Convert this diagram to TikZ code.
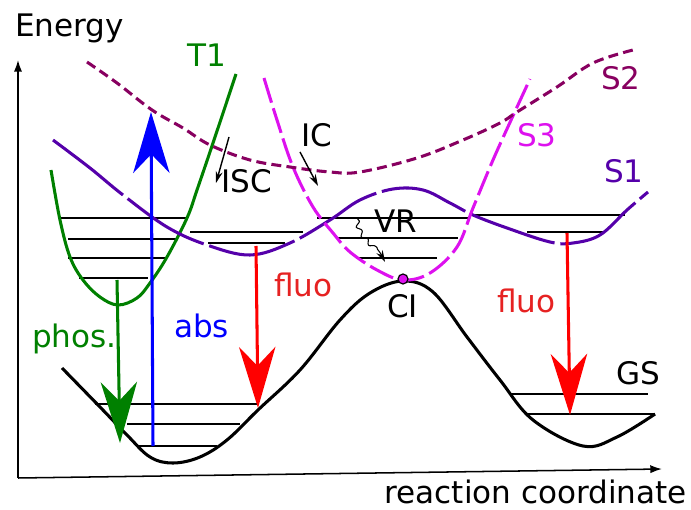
\documentclass[tikz,border=0pt]{standalone}
\usepackage{fontspec}
\setmainfont{DejaVu Sans}
\usepackage{xcolor}
\usetikzlibrary{arrows.meta,decorations.pathmorphing}
\definecolor{tgreen}{HTML}{008000}
\definecolor{sone}{HTML}{5500AA}
\definecolor{stwo}{HTML}{880060}
\definecolor{sthree}{HTML}{DD11EE}
\definecolor{fluored}{HTML}{E62222}
\begin{document}
\begin{tikzpicture}[x=0.03cm,y=-0.03cm,font=\fontsize{26.5}{31}\selectfont,curve/.style={line width=2.6pt,draw=#1},level/.style={line width=1.6pt},lbl/.style={anchor=base west,inner sep=0pt,text=#1},bigarrow/.style={-{Stealth[length=52pt,width=31pt,inset=16pt]},line width=2.6pt,draw=#1},smallarrow/.style={-{Stealth[length=10pt,width=6pt]},line width=1.2pt}]
\useasboundingbox (0,0) rectangle (691,510);
% axes
\coordinate (origin) at (18,478);\coordinate (ytop) at (18,60);\coordinate (xend) at (662,469);
\draw[-{Latex[length=10pt,width=7pt]},line width=1.3pt] (origin) -- (ytop);
\draw[-{Latex[length=10pt,width=7pt]},line width=1.3pt] (origin) -- (xend);
\node[lbl=black] (energy) at (15,37) {Energy};
\node[anchor=base east,inner sep=0pt] (rc) at (687,503) {reaction coordinate};
% vibrational levels
\draw[level] (58,218) -- (187,218) (68,239) -- (178,239) (68,258) -- (167,258) (79,278) -- (148,278);
\draw[level] (190,232) -- (303,232) (208,243) -- (285,243);
\draw[level] (317,218) -- (468,218) (337,238) -- (458,238) (358,258) -- (437,258);
\draw[level] (470,215) -- (625,215) (527,232) -- (605,232);
\draw[level] (95,404) -- (258,404) (127,424) -- (240,424) (137,446) -- (217,446);
\draw[level] (510,394) -- (648,394) (528,414) -- (655,414);
% potential curves
\draw[curve=black] plot[smooth,tension=0.6] coordinates {(62,368) (100,407) (127,435) (150,457) (173,463) (200,457) (227,440) (258,410) (300,370) (340,320) (370,293) (403,281) (433,292) (467,337) (500,380) (533,420) (583,446) (617,437) (655,414)};
\draw[curve=tgreen] plot[smooth,tension=0.6] coordinates {(51,170) (60,220) (70,257) (83,280) (100,297) (118,305) (137,298) (150,283) (167,257) (187,218) (197,190) (213,143) (236,74)};
\draw[curve=sone,dash pattern=on 76pt off 5pt] plot[smooth,tension=0.6] coordinates {(53,140) (90,168) (123,195) (167,227) (207,245) (250,255) (290,243) (330,220) (360,200) (393,189) (423,190) (450,203) (473,215) (507,228) (550,242) (573,243) (600,235) (627,210) (648,192)};
\draw[curve=sthree,dash pattern=on 22pt off 5pt] plot[smooth,tension=0.6] coordinates {(264,78) (277,120) (293,167) (313,207) (333,233) (350,252) (377,270) (403,280) (430,273) (457,247) (473,208) (493,160) (512,118) (530,79)};
\draw[curve=stwo,dash pattern=on 8.5pt off 4.5pt] plot[smooth,tension=0.6] coordinates {(87,62) (117,83) (152,110) (183,128) (210,145) (250,160) (290,167) (330,172) (360,172) (417,158) (463,140) (500,123) (517,112) (557,87) (593,63) (633,50)};
\node[circle,draw,fill=sthree,minimum size=0.3cm,inner sep=0pt,line width=1pt] (cidot) at (403,279) {};
% state labels
\node[lbl=tgreen] (t1) at (187,67) {T1};
\node[lbl=stwo] (s2) at (601,90) {S2};
\node[lbl=sthree] (s3) at (517,147) {S3};
\node[lbl=sone] (s1) at (604,183) {S1};
\node[lbl=black] (gs) at (616,384) {GS};
\node[lbl=black] (ci) at (387,317) {CI};
% transitions
\coordinate (absA) at (153,446);\coordinate (absB) at (151,112);
\coordinate (phosA) at (117,280);\coordinate (phosB) at (120,443);
\coordinate (fluoLA) at (256,246);\coordinate (fluoLB) at (258,408);
\coordinate (fluoRA) at (567,233);\coordinate (fluoRB) at (570,415);
\draw[bigarrow=tgreen] (phosA) -- (phosB);
\draw[bigarrow=blue] (absA) -- (absB);
\draw[bigarrow=red] (fluoLA) -- (fluoLB);
\draw[bigarrow=red] (fluoRA) -- (fluoRB);
\node[lbl=tgreen] (phos) at (32,347) {phos.};
\node[lbl=blue] (abs) at (174,337) {abs};
\node[lbl=fluored] (fluoL) at (274,297) {fluo};
\node[lbl=fluored] (fluoR) at (497,313) {fluo};
\coordinate (iscA) at (229,137);\coordinate (iscB) at (216,183);
\coordinate (icA) at (300,152);\coordinate (icB) at (318,186);
\draw[smallarrow] (iscA) -- (iscB);
\draw[smallarrow] (icA) -- (icB);
\node[lbl=black] (isc) at (221,193) {ISC};
\node[lbl=black] (ic) at (301,147) {IC};
\coordinate (vrA) at (357,218);\coordinate (vrB) at (385,262);
\draw[smallarrow,line width=0.9pt,decorate,decoration={snake,amplitude=1.8pt,segment length=9pt,post length=9pt}] (vrA) to[out=-85,in=110] (vrB);
\node[lbl=black] (vr) at (374,233) {VR};
\end{tikzpicture}
\end{document}
